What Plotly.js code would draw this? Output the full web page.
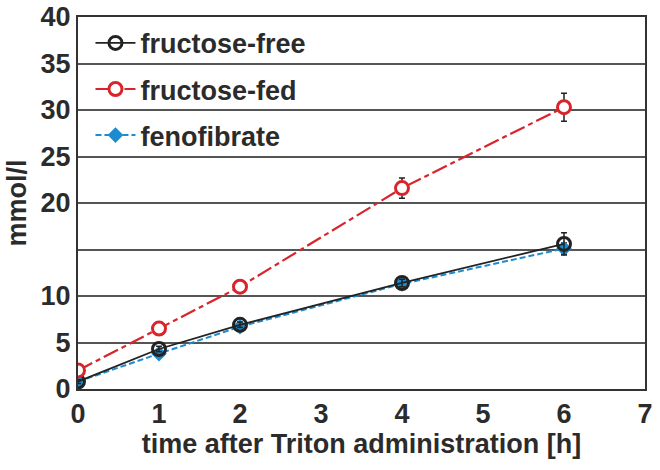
<!DOCTYPE html>
<html>
<head>
<meta charset="utf-8">
<script src="https://cdn.plot.ly/plotly-3.0.1.min.js"></script>
<style>
  body { margin: 0; background: #fff; }
  #plotDiv { width: 660px; height: 470px; }
</style>
</head>
<body>
<div id="plotDiv"></div>
<script>
var hours = [0, 1, 2, 4, 6];

var freeVals = [0.8, 4.3, 6.9, 11.4, 15.6];
var freeErr  = [0.2, 0.3, 0.3, 0.4, 1.2];

var fedVals = [2.0, 6.5, 11.0, 21.6, 30.3];
var fedErr  = [0.2, 0.3, 0.3, 1.1, 1.5];

var fenoVals = [0.8, 3.8, 6.7, 11.3, 15.1];
var fenoErr  = [0.2, 0.2, 0.3, 0.3, 0.6];

var yTicks = [0, 5, 10, 15, 20, 25, 30, 35, 40];
var yLabels = ['0', '5', '10', '', '20', '25', '30', '35', '40'];

var feno = {
  x: hours, y: fenoVals, name: 'fenofibrate', legendrank: 3, legendgroup: 'c',
  type: 'scatter', mode: 'lines+markers',
  line: { color: '#1b8ccf', width: 2, dash: '6px,3px' },
  marker: { symbol: 'diamond', size: 12, color: '#1b8ccf' },
  error_y: { type: 'data', array: fenoErr, color: '#222', thickness: 1.5, width: 3 }
};

var free = {
  x: hours, y: freeVals, name: 'fructose-free', legendrank: 1, legendgroup: 'a',
  type: 'scatter', mode: 'lines+markers',
  line: { color: '#222', width: 1.8 },
  marker: { symbol: 'circle-open', size: 13, color: '#222', line: { width: 3 } },
  error_y: { type: 'data', array: freeErr, color: '#222', thickness: 1.5, width: 3 }
};

var fed = {
  x: hours, y: fedVals, name: 'fructose-fed', legendrank: 2, legendgroup: 'b',
  type: 'scatter', mode: 'lines+markers',
  line: { color: '#d9242c', width: 2.2, dash: '16px,4px,5px,4px' },
  marker: { symbol: 'circle', size: 13, color: '#fff', line: { color: '#d9242c', width: 3 } },
  error_y: { type: 'data', array: fedErr, color: '#222', thickness: 1.5, width: 3 }
};

var layout = {
  width: 660,
  height: 470,
  margin: { l: 78, r: 15, t: 17, b: 81 },
  paper_bgcolor: '#fff',
  plot_bgcolor: '#fff',
  font: { family: 'Liberation Sans, Arial, sans-serif', color: '#2b2b2b' },
  showlegend: true,
  legend: {
    x: 0.022, y: 0.995, xanchor: 'left', yanchor: 'top',
    bgcolor: 'rgba(0,0,0,0)',
    font: { size: 27, weight: 'bold', color: '#2b2b2b' },
    itemwidth: 40,
    tracegroupgap: 8
  },
  xaxis: {
    range: [0, 7],
    tickvals: [0, 1, 2, 3, 4, 5, 6, 7],
    showgrid: false, zeroline: false,
    showline: true, linecolor: '#333', linewidth: 2, mirror: true,
    ticks: '',
    tickfont: { size: 27, weight: 'bold' },
    title: { text: 'time after Triton administration [h]', font: { size: 27, weight: 'bold' }, standoff: 6 }
  },
  yaxis: {
    range: [0, 40],
    tickvals: yTicks, ticktext: yLabels,
    showgrid: true, gridcolor: '#555', gridwidth: 1.8, zeroline: false,
    showline: true, linecolor: '#333', linewidth: 2, mirror: true,
    ticks: '',
    tickfont: { size: 27, weight: 'bold' },
    title: { text: 'mmol/l', font: { size: 27, weight: 'bold' }, standoff: 6 }
  }
};

Plotly.newPlot('plotDiv', [feno, free, fed], layout, { displayModeBar: false });
</script>
</body>
</html>
